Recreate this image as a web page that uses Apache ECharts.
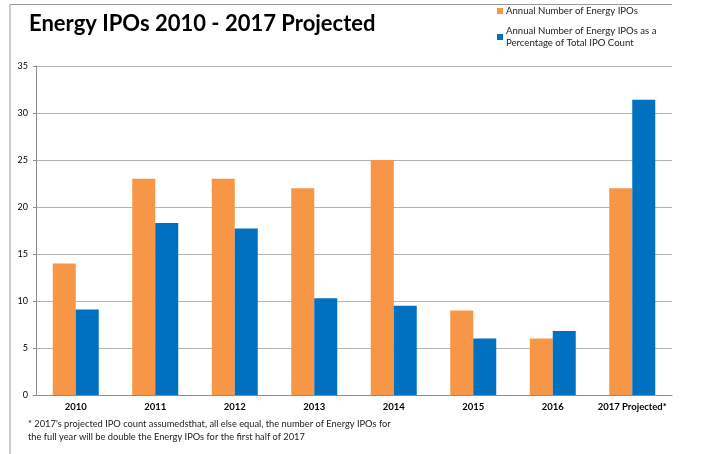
<!DOCTYPE html>
<html>
<head>
<meta charset="utf-8">
<script src="https://cdn.jsdelivr.net/npm/echarts@6/dist/echarts.min.js"></script>
<style>
  html, body { margin: 0; padding: 0; background: #fff; }
  #chart { width: 706px; height: 454px; }
</style>
</head>
<body>
<div id="chart"></div>
<script>
// values
var years = ['2010', '2011', '2012', '2013', '2014', '2015', '2016', '2017 Projected*'];
var ipoCount = [14, 23, 23, 22, 25, 9, 6, 22];
var ipoPercent = [9.1, 18.3, 17.7, 10.3, 9.5, 6.0, 6.8, 31.4];
var yTicks = [0, 5, 10, 15, 20, 25, 30, 35];

var countName = 'Annual Number of Energy IPOs';
var pctName = 'Annual Number of Energy IPOs as a Percentage of Total IPO Count';

var font = 'Lato';
var chart = echarts.init(document.getElementById('chart'), null, {renderer: 'canvas'});

var option = {
    animation: false,
    title: {
        text: 'Energy IPOs 2010 - 2017 Projected',
        left: 24,
        top: 8,
        textStyle: {fontFamily: font, fontSize: 22, fontWeight: 'bold', color: '#000'}
    },
    legend: [{
        data: [countName],
        orient: 'vertical',
        left: 492,
        top: 1,
        itemWidth: 6,
        itemHeight: 6,
        icon: 'rect',
        textStyle: {fontFamily: font, fontSize: 9.6, color: '#222', padding: [0, 0, 0, -2]}
    }, {
        data: [pctName],
        orient: 'vertical',
        left: 492,
        top: 20,
        itemWidth: 6,
        itemHeight: 6,
        icon: 'rect',
        formatter: function () {
            return 'Annual Number of Energy IPOs as a\nPercentage of Total IPO Count';
        },
        textStyle: {fontFamily: font, fontSize: 9.6, color: '#222', lineHeight: 12, padding: [0, 0, 0, -2]}
    }],
    grid: {left: 36, right: 34, top: 66, bottom: 59},
    xAxis: {
        type: 'category',
        data: years,
        axisLine: {lineStyle: {color: '#8c8c8c'}},
        axisTick: {length: 3, lineStyle: {color: '#8c8c8c'}},
        axisLabel: {
            interval: 0,
            hideOverlap: false,
            fontFamily: font,
            fontSize: 9.5,
            fontWeight: 'bold',
            color: '#000',
            margin: 7
        }
    },
    yAxis: {
        type: 'value',
        min: yTicks[0],
        max: yTicks[yTicks.length - 1],
        interval: 5,
        axisLine: {show: true, lineStyle: {color: '#8c8c8c'}},
        axisTick: {show: true, length: 3, lineStyle: {color: '#8c8c8c'}},
        axisLabel: {fontFamily: font, fontSize: 9, color: '#000', margin: 8},
        splitLine: {lineStyle: {color: '#b4b4b4', width: 1}}
    },
    series: [{
        name: countName,
        type: 'bar',
        data: ipoCount,
        barWidth: 23,
        barGap: '0%',
        itemStyle: {color: '#F79646'}
    }, {
        name: pctName,
        type: 'bar',
        data: ipoPercent,
        barWidth: 23,
        itemStyle: {color: '#0070C0'}
    }],
    graphic: [{
        type: 'polyline',
        shape: {points: [[10, 454], [10, 4.5], [672, 4.5]]},
        style: {stroke: '#9a9a9a', lineWidth: 1, fill: null}
    }, {
        type: 'text',
        left: 28,
        top: 417,
        style: {
            text: "* 2017's projected IPO count assumedsthat, all else equal, the number of Energy IPOs for\nthe full year will be double the Energy IPOs for the first half of 2017",
            fontFamily: font,
            fontSize: 9.3,
            lineHeight: 13,
            fill: '#222'
        }
    }]
};

chart.setOption(option);
</script>
</body>
</html>
